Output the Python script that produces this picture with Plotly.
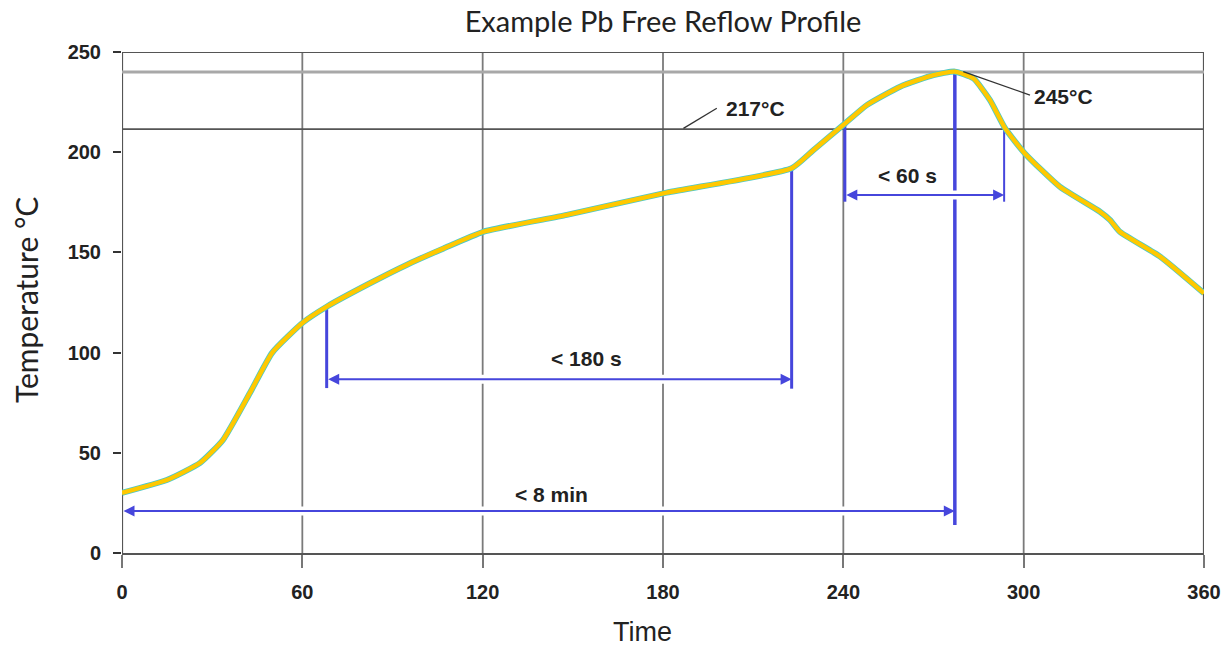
import plotly.graph_objects as go

# ---- data ----
time_s = [0, 14.9, 26, 33.6, 42.6, 50, 60.2, 68.1, 82.5, 95, 107, 120.2, 148, 181.2,
          222.8, 230, 240.6, 247.8, 258.9, 270, 277.1, 283.3, 288.8, 293.8, 300.4,
          312, 325.4, 328.7, 332, 345.4, 360]
temp_c = [30, 36.4, 45, 56.4, 80, 100, 115, 122.9, 134.6, 144, 152, 160.3, 168.7, 179.8,
          192, 201, 214.4, 223.5, 232.7, 238.5, 240.2, 236.8, 226, 212, 199.4,
          182.8, 170.3, 166.2, 160.3, 147.9, 129.6]

x_ticks = [0, 60, 120, 180, 240, 300, 360]
y_ticks = [0, 50, 100, 150, 200, 250]

ref_levels = [250, 240, 211.5]          # horizontal reference lines
ref_colors = ["#555555", "#a8a8a8", "#555555"]
ref_widths = [2, 3, 1.6]

# blue vertical markers: time, top temp, bottom temp, width
mark_t = [68.1, 222.8, 240.5, 293.5, 277.1]
mark_top = [122.9, 192, 214.4, 212, 240.2]
mark_bot = [82.3, 82, 175.3, 175.3, 14]
mark_w = [3, 3, 3, 2, 3.5]

# double arrows: start, end, level
arrow_x0 = [68.1, 240.5, 0]
arrow_x1 = [222.8, 293.5, 277.1]
arrow_y = [86.7, 178.6, 20.9]

# text labels
label_text = ["< 180 s", "< 60 s", "< 8 min", "217°C", "245°C"]
label_x = [154.4, 261.4, 142.9, 210.9, 313.2]
label_y = [97, 188.4, 29.2, 222, 228]

# leader lines for temperature labels
lead_x0 = [186.8, 279.9]
lead_y0 = [211.9, 240.2]
lead_x1 = [197.9, 302.1]
lead_y1 = [221.9, 228.5]

BLUE = "#4646DC"

fig = go.Figure()

# big vertical (peak) first so the white gap of the <60 s arrow cuts it
i_big = 4
fig.add_trace(go.Scatter(x=[mark_t[i_big], mark_t[i_big]], y=[mark_top[i_big], mark_bot[i_big]],
                         mode="lines", line=dict(color=BLUE, width=mark_w[i_big]),
                         hoverinfo="skip", showlegend=False))

# white gaps behind arrows (interrupt grid lines)
for a0, a1, ay in zip(arrow_x0, arrow_x1, arrow_y):
    fig.add_trace(go.Scatter(x=[a0 + 3, a1 - 3], y=[ay, ay], mode="lines",
                             line=dict(color="white", width=9),
                             hoverinfo="skip", showlegend=False))

for i, (t, top, bot, w) in enumerate(zip(mark_t, mark_top, mark_bot, mark_w)):
    if i == i_big:
        continue
    fig.add_trace(go.Scatter(x=[t, t], y=[top, bot], mode="lines",
                             line=dict(color=BLUE, width=w),
                             hoverinfo="skip", showlegend=False))

# profile curve: cyan outline + yellow core
fig.add_trace(go.Scatter(x=time_s, y=temp_c, mode="lines",
                         line=dict(color="#4CC8C8", width=6, shape="spline", smoothing=0.5),
                         hoverinfo="skip", showlegend=False))
fig.add_trace(go.Scatter(x=time_s, y=temp_c, mode="lines",
                         line=dict(color="#FFC800", width=4.4, shape="spline", smoothing=0.5),
                         showlegend=False))

shapes = []
for xv in x_ticks:
    edge = xv in (x_ticks[0], x_ticks[-1])
    shapes.append(dict(type="line", xref="x", yref="paper", x0=xv, x1=xv, y0=0, y1=1,
                       line=dict(color="#555555" if edge else "#7a7a7a", width=2.2 if edge else 1.8),
                       layer="below"))
for lv, lc, lw in zip(ref_levels, ref_colors, ref_widths):
    shapes.append(dict(type="line", xref="x", yref="y", x0=x_ticks[0], x1=x_ticks[-1], y0=lv, y1=lv,
                       line=dict(color=lc, width=lw), layer="below"))
for x0, y0, x1, y1 in zip(lead_x0, lead_y0, lead_x1, lead_y1):
    shapes.append(dict(type="line", xref="x", yref="y", x0=x0, y0=y0, x1=x1, y1=y1,
                       line=dict(color="#333333", width=1.3)))

annotations = []
for a0, a1, ay in zip(arrow_x0, arrow_x1, arrow_y):
    annotations.append(dict(x=a1, y=ay, ax=a0, ay=ay, xref="x", yref="y", axref="x", ayref="y",
                            text="", showarrow=True, arrowhead=2, arrowsize=1.1, arrowwidth=2,
                            arrowcolor=BLUE, arrowside="end+start", standoff=0, startstandoff=0))
for t, lx, ly in zip(label_text, label_x, label_y):
    annotations.append(dict(x=lx, y=ly, xref="x", yref="y", text="<b>%s</b>" % t, showarrow=False,
                            font=dict(family="Liberation Sans", size=21, color="#222222")))

annotations.append(dict(text="Time", xref="paper", yref="paper", x=0.4815, y=-(649 - 553) / 501,
                        xanchor="center", yanchor="bottom", showarrow=False,
                        font=dict(family="Liberation Sans", size=27, color="#222222")))
annotations.append(dict(text="Temperature °C", xref="paper", yref="paper", x=-0.0887, y=0.505,
                        xanchor="center", yanchor="middle", showarrow=False, textangle=-90,
                        font=dict(family="Lato", size=30, color="#222222")))

fig.update_layout(
    width=1224, height=650,
    margin=dict(l=122, r=20, t=52, b=97),
    paper_bgcolor="white", plot_bgcolor="white",
    title=dict(text="Example Pb Free Reflow Profile", x=0.5, xref="paper",
               y=1 - 22 / 650, yanchor="middle",
               font=dict(family="Lato", size=29, color="#222222")),
    shapes=shapes, annotations=annotations,
    xaxis=dict(range=[x_ticks[0], x_ticks[-1]], tickvals=x_ticks, ticktext=[str(v) for v in x_ticks],
               showgrid=False, zeroline=False, showline=True, linecolor="#555555", linewidth=2,
               ticks="outside", ticklen=13, tickwidth=2, tickcolor="#777777",
               ticklabelstandoff=7, automargin=False,
               tickfont=dict(family="Liberation Sans", size=20, color="#222222", weight="bold")),
    yaxis=dict(range=[y_ticks[0], y_ticks[-1]], tickvals=y_ticks, ticktext=[str(v) for v in y_ticks],
               showgrid=False, zeroline=False, showline=False,
               ticks="outside", ticklen=8, tickwidth=2, tickcolor="#333333",
               ticklabelstandoff=8, automargin=False,
               tickfont=dict(family="Liberation Sans", size=20, color="#222222", weight="bold")),
)

# remove the default 8px page margin so the 1224x650 figure fills the window
fig.write_html("out.html", config={"displayModeBar": False},
               post_script="document.body.style.margin='0px';document.body.style.overflow='hidden';")
